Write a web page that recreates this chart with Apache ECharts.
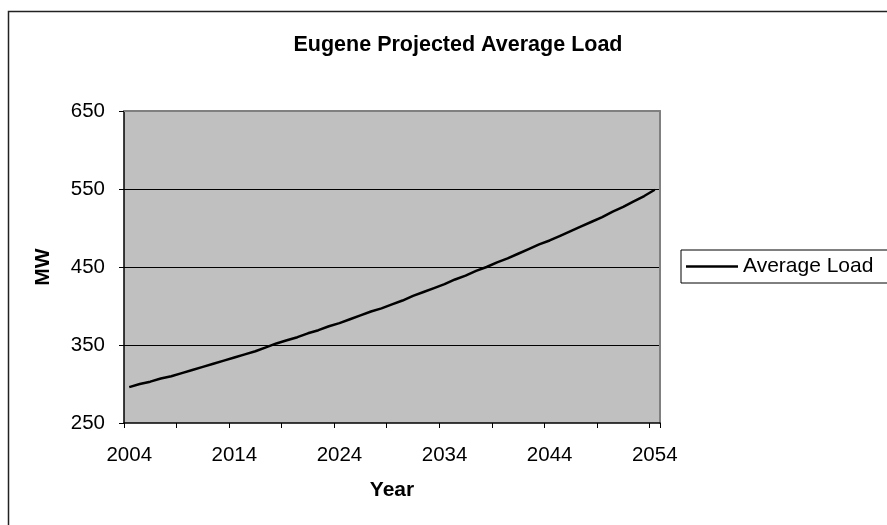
<!DOCTYPE html>
<html>
<head>
<meta charset="utf-8">
<script src="https://cdn.jsdelivr.net/npm/echarts@6/dist/echarts.min.js"></script>
<style>
  html, body { margin: 0; padding: 0; background: #fff; }
  #chart { width: 887px; height: 525px; }
</style>
</head>
<body>
<div id="chart"></div>
<script>
// Years 2004..2054, one category per year
const years = ['2004','2005','2006','2007','2008','2009','2010','2011','2012','2013',
  '2014','2015','2016','2017','2018','2019','2020','2021','2022','2023',
  '2024','2025','2026','2027','2028','2029','2030','2031','2032','2033',
  '2034','2035','2036','2037','2038','2039','2040','2041','2042','2043',
  '2044','2045','2046','2047','2048','2049','2050','2051','2052','2053','2054'];

// Projected average load, MW
const averageLoad = [296, 300, 303, 307, 310, 314, 318, 322, 326, 330,
  334, 338, 342, 347, 352, 356, 360, 365, 369, 374,
  378, 383, 388, 393, 397, 402, 407, 413, 418, 423,
  428, 434, 439, 445, 450, 456, 461, 467, 473, 479,
  484, 490, 496, 502, 508, 514, 521, 527, 534, 541, 549];

const yTicks = { min: 250, max: 650, step: 100 };

const FONT = 'Liberation Sans, Arial, sans-serif';

const chart = echarts.init(document.getElementById('chart'), null, { renderer: 'canvas' });

// Plain frame axes used only to draw the grey top and right edges of the plot
const frameX = {
  type: 'category', data: years, position: 'top', gridIndex: 0,
  axisLine: { show: true, onZero: false, lineStyle: { color: '#808080', width: 2 } },
  axisTick: { show: false }, axisLabel: { show: false }, splitLine: { show: false }
};
const frameY = {
  type: 'value', min: yTicks.min, max: yTicks.max, interval: yTicks.step, position: 'right',
  axisLine: { show: true, onZero: false, lineStyle: { color: '#808080', width: 2 } },
  axisTick: { show: false }, axisLabel: { show: false }, splitLine: { show: false }
};

chart.setOption({
  backgroundColor: '#ffffff',
  animation: false,
  graphic: [{
    type: 'rect',
    shape: { x: 8.5, y: 11.5, width: 1000, height: 700 },
    style: { fill: 'none', stroke: '#222', lineWidth: 1.5 },
    silent: true,
    z: -1
  }],
  title: {
    text: 'Eugene Projected Average Load',
    left: 453,
    textAlign: 'center',
    top: 29,
    textStyle: { fontFamily: FONT, fontSize: 21.5, fontWeight: 'bold', color: '#000' }
  },
  legend: {
    left: 681,
    top: 250,
    orient: 'horizontal',
    backgroundColor: '#fff',
    borderColor: '#000',
    borderWidth: 1,
    padding: [6, 40, 6, 5],
    itemWidth: 52,
    itemHeight: 2.5,
    icon: 'rect',
    textStyle: { fontFamily: FONT, fontSize: 21, color: '#000' },
    data: ['Average Load']
  },
  grid: {
    left: 124,
    right: 227,
    top: 111,
    bottom: 102,
    show: true,
    backgroundColor: '#c0c0c0',
    borderWidth: 0
  },
  xAxis: [{
    type: 'category',
    data: years,
    boundaryGap: true,
    name: 'Year',
    nameLocation: 'middle',
    nameGap: 57,
    nameTextStyle: { fontFamily: FONT, fontSize: 21, fontWeight: 'bold', color: '#000' },
    axisLine: { onZero: false, lineStyle: { color: '#000', width: 1.5 } },
    axisTick: { show: true, interval: 4, length: 5, inside: false, lineStyle: { color: '#000' } },
    axisLabel: { interval: 9, margin: 22, fontFamily: FONT, fontSize: 20.5, color: '#000' },
    splitLine: { show: false }
  }, frameX],
  yAxis: [{
    type: 'value',
    min: yTicks.min,
    max: yTicks.max,
    interval: yTicks.step,
    name: 'MW',
    nameLocation: 'middle',
    nameGap: 70,
    nameTextStyle: { fontFamily: FONT, fontSize: 21, fontWeight: 'bold', color: '#000' },
    axisLine: { show: true, onZero: false, lineStyle: { color: '#000', width: 1.5 } },
    axisTick: { show: true, length: 5, inside: false, lineStyle: { color: '#000' } },
    axisLabel: { margin: 19, fontFamily: FONT, fontSize: 20.5, color: '#000' },
    splitLine: { show: true, showMinLine: false, showMaxLine: false, lineStyle: { color: '#000', width: 1 } }
  }, frameY],
  series: [{
    name: 'Average Load',
    type: 'line',
    data: averageLoad,
    xAxisIndex: 0,
    yAxisIndex: 0,
    symbol: 'none',
    smooth: false,
    itemStyle: { color: '#000' },
    lineStyle: { color: '#000', width: 2.5 }
  }]
});
</script>
</body>
</html>
